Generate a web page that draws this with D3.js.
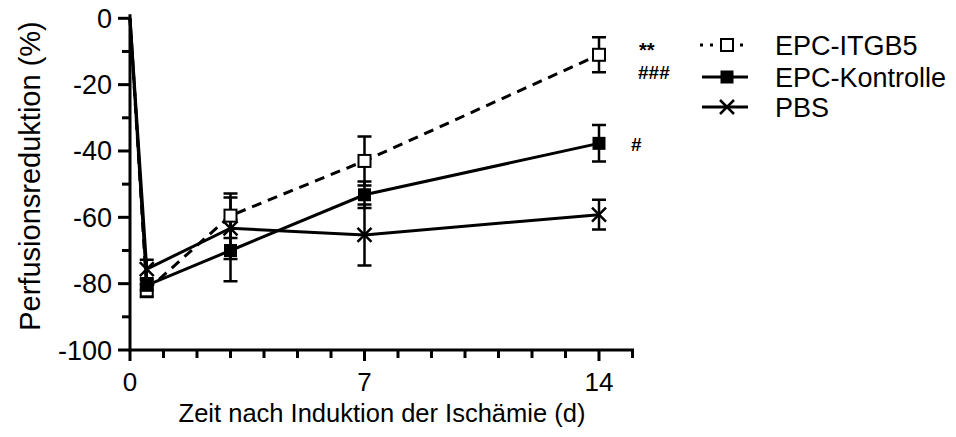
<!DOCTYPE html>
<html><head><meta charset="utf-8">
<script src="https://cdn.jsdelivr.net/npm/d3@7"></script>
<style>body{margin:0;background:#fff}text{font-family:"Liberation Sans",Arial,sans-serif;fill:#000}</style>
</head><body><svg id="c" width="956" height="437"></svg>
<script>
const days = [0, 0.5, 3, 7, 14];
const itgb5 = [0, -82, -59.5, -43, -11];
const itgb5Err = [0, 2, 6.7, 7.4, 5.3];
const kontrolle = [0, -80.5, -70, -53.2, -37.7];
const kontrolleErr = [0, 1.5, 9.3, 4, 5.5];
const pbs = [0, -75.6, -63.3, -65.3, -59.2];
const pbsErr = [0, 2.8, 9.3, 9.2, 4.5];
const seriesNames = ["EPC-ITGB5", "EPC-Kontrolle", "PBS"];
const xTicks = [0, 7, 14];
const yTicks = [0, -20, -40, -60, -80, -100];
const annotations = [
  {x: 14, y: -11, text: "**", dx: 40, dy: 2, size: 20},
  {x: 14, y: -11, text: "###", dx: 39, dy: 24, size: 19},
  {x: 14, y: -37.7, text: "#", dx: 32, dy: 8, size: 19}
];

const svg = d3.select("#c");
const x = d3.scaleLinear().domain([0, 15]).range([130, 632.5]);
const y = d3.scaleLinear().domain([-100, 0]).range([350, 18.3]);

// axes: tick marks positioned by the scales
const x0 = x(0), yb = y(-100);
const xMinorTicks = d3.range(0, 16);
const yMinorTicks = d3.range(-100, 1, 10);
svg.selectAll(".xt").data(xMinorTicks).join("rect").attr("class", "xt")
  .attr("x", d => x(d) - 1.5).attr("y", yb).attr("width", 3).attr("height", d => xTicks.includes(d) ? 11 : 8).attr("fill", "#000");
svg.selectAll(".yt").data(yMinorTicks).join("rect").attr("class", "yt")
  .attr("x", d => x0 - (yTicks.includes(d) ? 12 : 8)).attr("y", d => y(d) - 1.5).attr("height", 3).attr("width", d => yTicks.includes(d) ? 12 : 8).attr("fill", "#000");
svg.append("path").attr("d", `M${x0},${yb}H${x(15) + 1.5}`).attr("fill", "none").attr("stroke", "#000").attr("stroke-width", 3);
svg.append("path").attr("d", `M${x0},${y(0) - 4}V${yb + 1.5}`).attr("fill", "none").attr("stroke", "#000").attr("stroke-width", 3);

svg.selectAll(".xl").data(xTicks).join("text").attr("class", "xl").attr("x", d => x(d)).attr("y", yb + 41)
  .attr("text-anchor", "middle").attr("font-size", 26).text(d => d);
svg.selectAll(".yl").data(yTicks).join("text").attr("class", "yl").attr("x", x0 - 18).attr("y", d => y(d) + 9.5)
  .attr("text-anchor", "end").attr("font-size", 27).text(d => d < 0 ? "-" + Math.abs(d) : d);

svg.append("text").attr("x", 382).attr("y", 422).attr("text-anchor", "middle").attr("font-size", 25.5).text("Zeit nach Induktion der Ischämie (d)");
svg.append("text").attr("transform", "translate(40,176) rotate(-90)").attr("text-anchor", "middle").attr("font-size", 29).text("Perfusionsreduktion (%)");

const series = [
  {name: seriesNames[0], v: itgb5, e: itgb5Err, dash: "10,7", marker: "open"},
  {name: seriesNames[1], v: kontrolle, e: kontrolleErr, dash: null, marker: "filled"},
  {name: seriesNames[2], v: pbs, e: pbsErr, dash: null, marker: "x"}
];
const line = d3.line().x((d, i) => x(days[i])).y(d => y(d));

function drawMarker(g, type, cx, cy) {
  if (type === "open") {
    g.append("rect").attr("x", cx - 6).attr("y", cy - 6).attr("width", 12).attr("height", 12).attr("fill", "#fff").attr("stroke", "#000").attr("stroke-width", 2);
  } else if (type === "filled") {
    g.append("rect").attr("x", cx - 6.5).attr("y", cy - 6.5).attr("width", 13).attr("height", 13).attr("fill", "#000");
  } else {
    const s = 7;
    g.append("path").attr("d", `M${cx - s},${cy - s}L${cx + s},${cy + s}M${cx - s},${cy + s}L${cx + s},${cy - s}`).attr("stroke", "#000").attr("stroke-width", 2.5);
  }
}

series.forEach(s => {
  const g = svg.append("g");
  s.v.forEach((v, i) => {
    if (i === 0) return;
    const cx = x(days[i]);
    g.append("path").attr("d", `M${cx},${y(v + s.e[i])}V${y(v - s.e[i])}M${cx - 7},${y(v + s.e[i])}h14M${cx - 7},${y(v - s.e[i])}h14`)
      .attr("stroke", "#000").attr("stroke-width", 2.5).attr("fill", "none");
  });
  g.append("path").attr("d", line(s.v)).attr("fill", "none").attr("stroke", "#000").attr("stroke-width", 3).attr("stroke-dasharray", s.dash);
});
series.forEach(s => {
  const g = svg.append("g");
  s.v.forEach((v, i) => { if (i > 0) drawMarker(g, s.marker, x(days[i]), y(v)); });
});

// annotations
annotations.forEach(a => {
  svg.append("text").attr("x", x(a.x) + a.dx).attr("y", y(a.y) + a.dy).attr("font-size", a.size).attr("font-weight", "bold").text(a.text);
});

// legend
const lg = svg.append("g");
const ly = [45, 77, 107];
series.forEach((s, i) => {
  if (i === 0) {
    lg.append("line").attr("x1", 700).attr("x2", 748).attr("y1", ly[i]).attr("y2", ly[i]).attr("stroke", "#000").attr("stroke-width", 3).attr("stroke-dasharray", "3,7");
  } else {
    lg.append("line").attr("x1", 702).attr("x2", 748).attr("y1", ly[i]).attr("y2", ly[i]).attr("stroke", "#000").attr("stroke-width", 3);
  }
  drawMarker(lg, s.marker, 727, ly[i]);
  lg.append("text").attr("x", 775).attr("y", ly[i] + 10).attr("font-size", 27).text(s.name);
});
</script></body></html>
